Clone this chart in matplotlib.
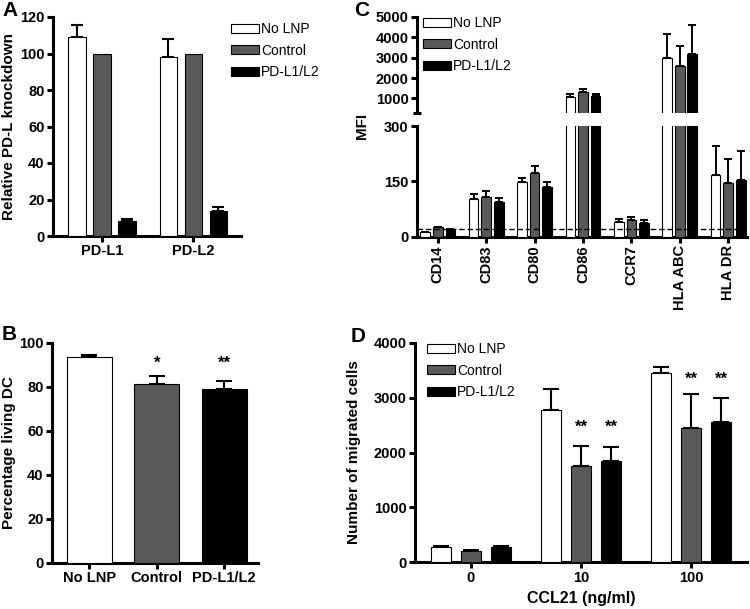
import numpy as np
import matplotlib
matplotlib.use("Agg")
import matplotlib.pyplot as plt
from matplotlib.patches import Patch

plt.rcParams["font.family"] = ["Liberation Sans", "DejaVu Sans"]
plt.rcParams["font.weight"] = "bold"

# ---------------- data ----------------
series_names = ["No LNP", "Control", "PD-L1/L2"]
series_colors = ["white", "#595959", "black"]

# A: relative PD-L knockdown
a_groups = ["PD-L1", "PD-L2"]
a_nolnp = [109, 98]
a_nolnp_err = [6.7, 9.7]
a_control = [100, 100]
a_control_err = [0, 0]
a_pdl = [8.2, 13.5]
a_pdl_err = [1.3, 2.3]

# B: percentage living DC
b_groups = ["No LNP", "Control", "PD-L1/L2"]
b_values = [93.8, 81.5, 79.2]
b_err = [0.9, 3.5, 3.7]
b_stars = ["", "*", "**"]
b_star_y = [0, 91, 91]

# C: MFI of markers
c_markers = ["CD14", "CD83", "CD80", "CD86", "CCR7", "HLA ABC", "HLA DR"]
c_nolnp = [12, 102, 147, 1080, 41, 2970, 167]
c_nolnp_err = [2, 14, 12, 117, 8, 1180, 79]
c_control = [25, 108, 173, 1296, 46, 2590, 146]
c_control_err = [2, 17, 18, 162, 7, 1000, 64]
c_pdl = [20, 94, 135, 1098, 38, 3167, 155]
c_pdl_err = [1, 12, 12, 129, 6, 1458, 77]
c_threshold = 20

# D: migrated cells vs CCL21
d_conc = ["0", "10", "100"]
d_nolnp = [273, 2776, 3461]
d_nolnp_err = [24, 376, 109]
d_control = [206, 1764, 2455]
d_control_err = [24, 363, 612]
d_pdl = [285, 1848, 2564]
d_pdl_err = [18, 262, 424]
d_stars = [["", "", ""], ["", "**", "**"], ["", "**", "**"]]
d_star_y = [0, 2460, 3330]

SPINE_W = 2.2


def style_axes(ax):
    for side in ["top", "right"]:
        ax.spines[side].set_visible(False)
    for side in ["left", "bottom"]:
        ax.spines[side].set_linewidth(SPINE_W)
    ax.tick_params(axis="both", width=SPINE_W, length=4, labelsize=10.5, pad=2)
    for lab in ax.get_xticklabels() + ax.get_yticklabels():
        lab.set_fontweight("bold")


def grouped_bars(ax, x, values, errors, width, pitch, capsize, elw=1.5,
                 err_range=None):
    for i, (vals, errs) in enumerate(zip(values, errors)):
        pos = np.asarray(x, dtype=float) + (i - 1) * pitch
        ax.bar(pos, vals, width, color=series_colors[i], edgecolor="black",
               linewidth=0.8, zorder=3)
        vals = np.asarray(vals, dtype=float)
        errs = np.asarray(errs, dtype=float)
        m = errs > 0
        if err_range is not None:
            top = vals + errs
            m &= (top > err_range[0]) & (top < err_range[1])
        if m.any():
            ax.errorbar(pos[m], vals[m], yerr=[np.zeros(m.sum()), errs[m]],
                        fmt="none", ecolor="black", elinewidth=elw,
                        capsize=capsize, capthick=elw, zorder=2)


fig = plt.figure(figsize=(7.5, 6.09), dpi=100)

legend_handles = [Patch(facecolor=c, edgecolor="black", linewidth=0.8)
                  for c in series_colors]


def add_legend(x_px, y_px):
    fig.legend(legend_handles, series_names, loc="upper left",
               bbox_to_anchor=(x_px / 750, 1 - y_px / 609),
               bbox_transform=fig.transFigure, frameon=False,
               prop={"size": 10, "weight": "normal"}, handlelength=2.0,
               handleheight=0.6, labelspacing=0.55, handletextpad=0.15,
               borderpad=0, borderaxespad=0)


# ---------------- panel A ----------------
axA = fig.add_axes([53 / 750, 1 - 236 / 609, 188 / 750, 219 / 609])
xa = np.arange(len(a_groups))
grouped_bars(axA, xa, [a_nolnp, a_control, a_pdl],
             [a_nolnp_err, a_control_err, a_pdl_err], 0.19, 0.273, 4)
axA.set_xlim(-0.535, 1.52)
axA.set_ylim(0, 120)
axA.set_yticks(range(0, 121, 20))
axA.set_xticks(xa)
axA.set_xticklabels(a_groups)
style_axes(axA)
add_legend(231, 22)

# ---------------- panel B ----------------
axB = fig.add_axes([52 / 750, 1 - 563 / 609, 206 / 750, 220 / 609])
xb = np.arange(len(b_groups))
axB.bar(xb, b_values, 0.67, color=series_colors, edgecolor="black",
        linewidth=0.8, zorder=3)
axB.errorbar(xb, b_values, yerr=[np.zeros(3), b_err], fmt="none",
             ecolor="black", elinewidth=1.5, capsize=6, capthick=1.5, zorder=2)
for xi, s, sy in zip(xb, b_stars, b_star_y):
    if s:
        axB.text(xi, sy, s, ha="center", va="center", fontsize=12,
                 fontweight="bold")
axB.set_xlim(-0.55, 2.5)
axB.set_ylim(0, 100)
axB.set_yticks(range(0, 101, 20))
axB.set_xticks(xb)
axB.set_xticklabels(b_groups)
style_axes(axB)
axB.tick_params(axis="x", labelsize=10.5)

# ---------------- panel C (broken axis) ----------------
c_left, c_w = 417 / 750, 330 / 750
axCt = fig.add_axes([c_left, 1 - 112.7 / 609, c_w, 95.7 / 609])
axCb = fig.add_axes([c_left, 1 - 236.7 / 609, c_w, 110.7 / 609])
xc = np.arange(len(c_markers))
for ax, lims in ((axCt, (300, 5000)), (axCb, (0, 300))):
    grouped_bars(ax, xc, [c_nolnp, c_control, c_pdl],
                 [c_nolnp_err, c_control_err, c_pdl_err], 0.2, 0.26, 2.8,
                 elw=1.4, err_range=lims)
    ax.set_xlim(-0.43, 6.39)
    ax.set_ylim(*lims)
axCt.set_yticks([1000, 2000, 3000, 4000, 5000])
axCb.set_yticks([0, 150, 300])
axCb.axhline(c_threshold, color="black", linestyle=(0, (4, 2)), linewidth=1,
             zorder=4)
style_axes(axCt)
style_axes(axCb)
axCt.spines["bottom"].set_visible(False)
axCt.set_xticks([])
axCb.set_xticks(xc)
axCb.set_xticklabels(c_markers, rotation=90, fontweight="bold")
# cap at the end of the upper axis segment
axCt.plot([-0.013, 0.013], [0, 0], transform=axCt.transAxes, color="black",
          linewidth=SPINE_W, clip_on=False, solid_capstyle="butt")
add_legend(423, 16)

# ---------------- panel D ----------------
axD = fig.add_axes([415 / 750, 1 - 562.3 / 609, 332 / 750, 219.3 / 609])
xd = np.arange(len(d_conc))
grouped_bars(axD, xd, [d_nolnp, d_control, d_pdl],
             [d_nolnp_err, d_control_err, d_pdl_err], 0.181, 0.272, 5.5)
for gi, (row, sy) in enumerate(zip(d_stars, d_star_y)):
    for si, s in enumerate(row):
        if s:
            axD.text(xd[gi] + (si - 1) * 0.272, sy, s, ha="center",
                     va="center", fontsize=12, fontweight="bold")
axD.set_xlim(-0.505, 2.505)
axD.set_ylim(0, 4000)
axD.set_yticks(range(0, 4001, 1000))
axD.set_xticks(xd)
axD.set_xticklabels(d_conc)
style_axes(axD)
add_legend(427, 342)

# ---------------- labels ----------------
fig.text(9 / 750, 1 - 126 / 609, "Relative PD-L knockdown", rotation=90,
         ha="center", va="center", fontsize=11, fontweight="bold")
fig.text(9 / 750, 1 - 453 / 609, "Percentage living DC", rotation=90,
         ha="center", va="center", fontsize=11, fontweight="bold")
fig.text(362 / 750, 1 - 126 / 609, "MFI", rotation=90,
         ha="center", va="center", fontsize=11, fontweight="bold")
fig.text(354 / 750, 1 - 452 / 609, "Number of migrated cells", rotation=90,
         ha="center", va="center", fontsize=11, fontweight="bold")
fig.text(581 / 750, 1 - 598 / 609, "CCL21 (ng/ml)", ha="center",
         va="center", fontsize=11.5, fontweight="bold")

for letter, x, y in [("A", 10, 10), ("B", 9, 334), ("C", 362, 10),
                     ("D", 358, 337)]:
    fig.text(x / 750, 1 - y / 609, letter, ha="center", va="center",
             fontsize=15, fontweight="bold")

fig.savefig("out.png", dpi=100)
